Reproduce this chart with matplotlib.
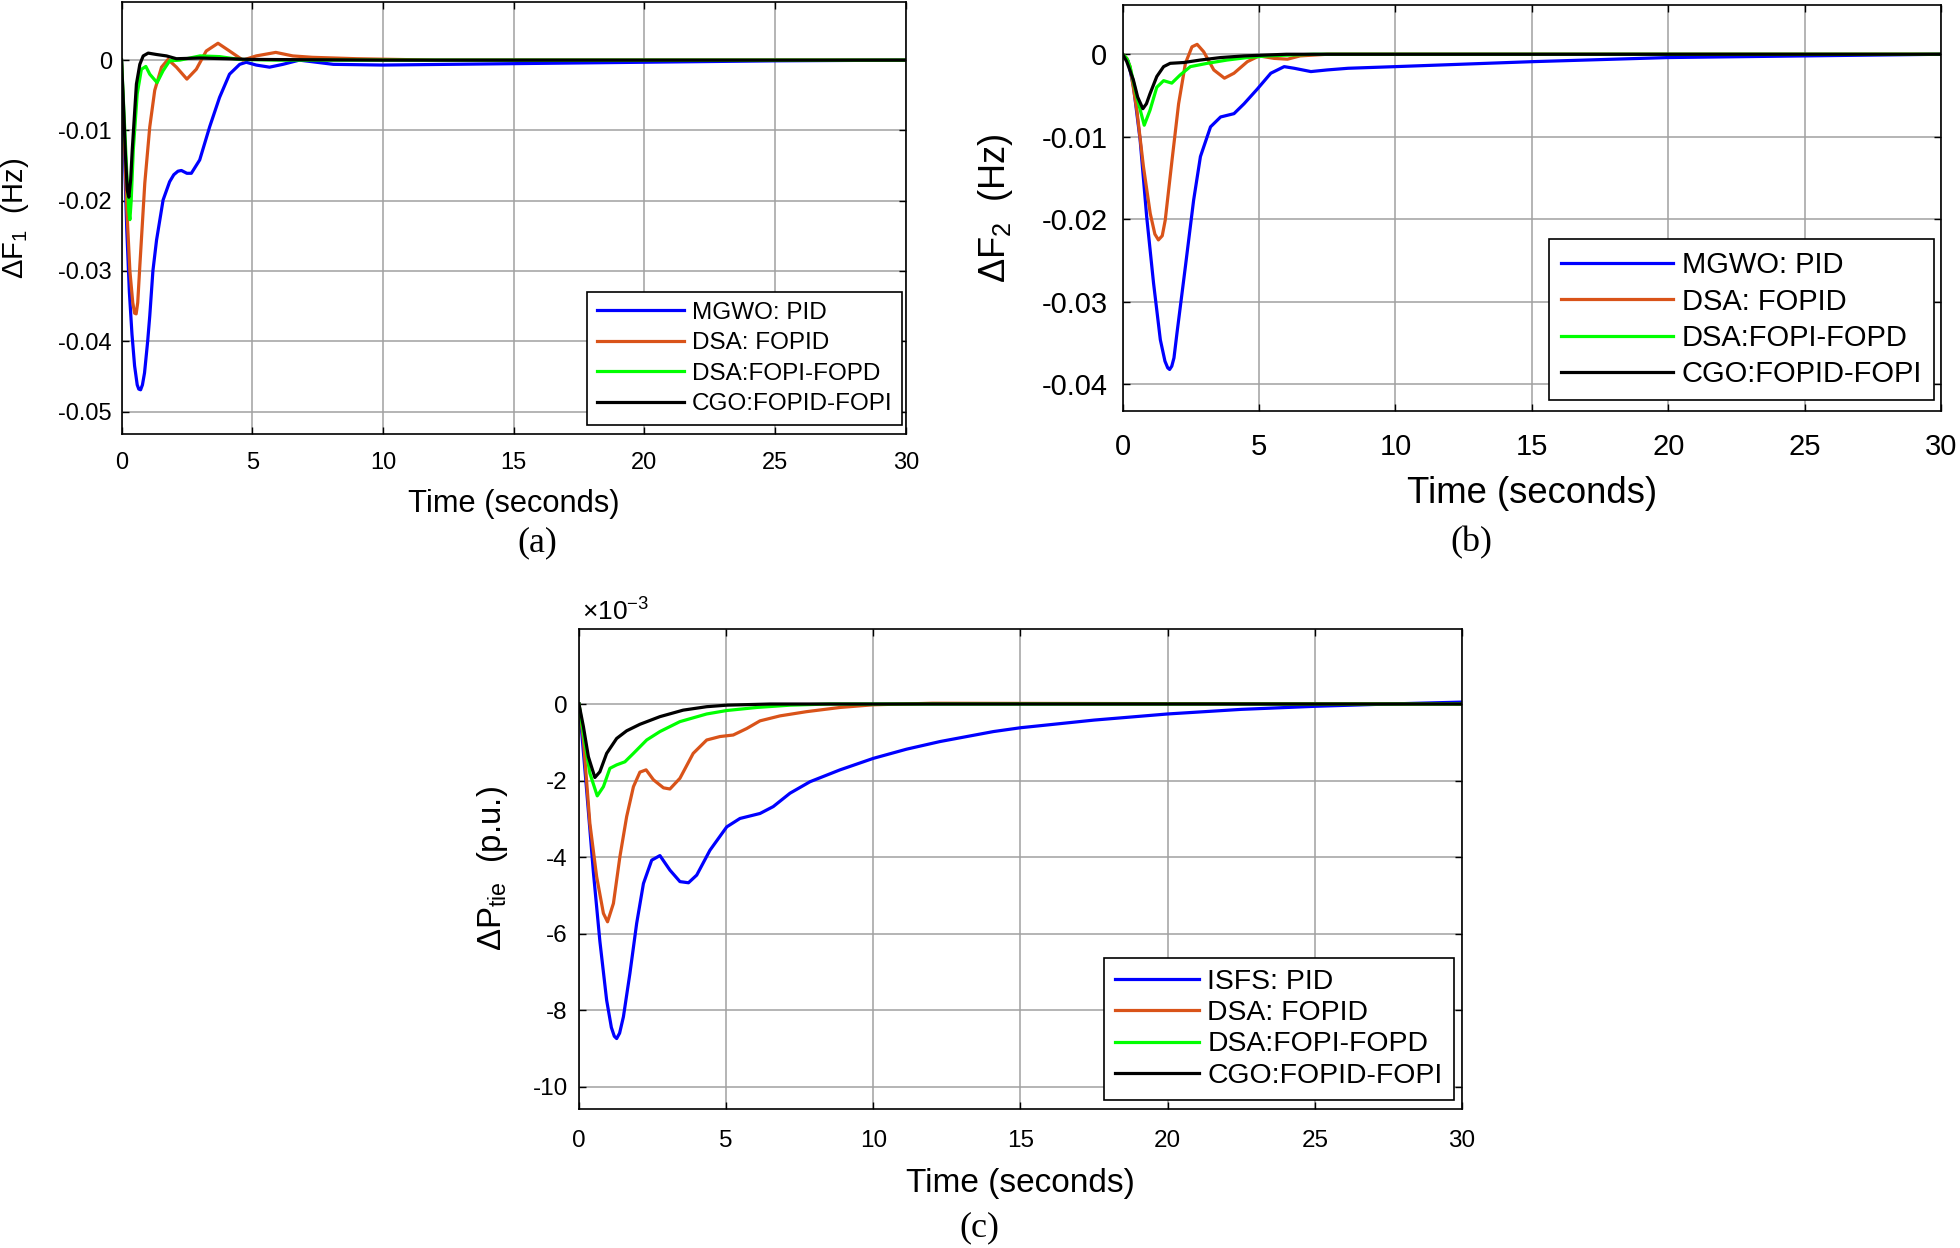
import numpy as np
import matplotlib
matplotlib.use("Agg")
import matplotlib.pyplot as plt

plt.rcParams['font.family'] = ['Liberation Sans', 'DejaVu Sans']
plt.rcParams['axes.unicode_minus'] = False
plt.rcParams['mathtext.fontset'] = 'custom'
plt.rcParams['mathtext.rm'] = 'Liberation Sans'
plt.rcParams['mathtext.it'] = 'Liberation Sans'
plt.rcParams['mathtext.bf'] = 'Liberation Sans:bold'
plt.rcParams['mathtext.default'] = 'regular'

# ---------- colours / labels ----------
c_blue, c_orange, c_green, c_black = '#0000FF', '#D95319', '#00FF00', '#000000'
labels_ab = ['MGWO: PID', 'DSA: FOPID', 'DSA:FOPI-FOPD', 'CGO:FOPID-FOPI']
labels_c = ['ISFS: PID', 'DSA: FOPID', 'DSA:FOPI-FOPD', 'CGO:FOPID-FOPI']

# ---------- (a) delta F1 (Hz) ----------
ta_blue = [0, 0.1, 0.2, 0.3, 0.4, 0.5, 0.6, 0.66, 0.73, 0.8, 0.88, 1.0, 1.08, 1.2, 1.34, 1.59, 1.84, 2.0, 2.16,
           2.29, 2.5, 2.67, 2.99, 3.37, 3.75, 4.13, 4.52, 4.77, 5.15, 5.66, 6.17, 6.8, 8.1, 10, 15, 20, 25, 30]
a_blue = [0, -0.012, -0.024, -0.033, -0.039, -0.0435, -0.0462, -0.0468, -0.0469, -0.0462, -0.0445, -0.040,
          -0.0364, -0.030, -0.0256, -0.0199, -0.0173, -0.0163, -0.0158, -0.0157, -0.0161, -0.0161, -0.0142,
          -0.0095, -0.0053, -0.002, -0.0006, -0.0003, -0.0007, -0.001, -0.0006, 0.0, -0.0006, -0.0007,
          -0.0005, -0.0003, -0.0001, 0.0]
ta_orange = [0, 0.1, 0.2, 0.32, 0.43, 0.5, 0.56, 0.62, 0.7, 0.89, 1.08, 1.27, 1.53, 1.78, 2.1, 2.5, 2.86,
             3.24, 3.69, 4.13, 4.64, 5.15, 5.9, 6.55, 7.3, 9, 12, 30]
a_orange = [0, -0.010, -0.021, -0.030, -0.0345, -0.0360, -0.0361, -0.0345, -0.0293, -0.0175, -0.0095,
            -0.0043, -0.001, 0.0001, -0.001, -0.0027, -0.0013, 0.0013, 0.0024, 0.0013, 0.0, 0.0006, 0.0011,
            0.0006, 0.0004, 0.0002, 0.0, 0.0]
ta_green = [0, 0.1, 0.2, 0.28, 0.32, 0.37, 0.45, 0.6, 0.76, 0.93, 1.08, 1.36, 1.59, 1.84, 2.23, 3.0, 3.75,
            4.5, 6, 30]
a_green = [0, -0.008, -0.016, -0.0215, -0.0227, -0.020, -0.0128, -0.0048, -0.0013, -0.0009, -0.002, -0.0032,
           -0.0015, -0.0001, 0.0, 0.0006, 0.0005, 0.0001, 0.0, 0.0]
ta_black = [0, 0.07, 0.15, 0.22, 0.28, 0.35, 0.41, 0.5, 0.57, 0.7, 0.83, 1.02, 1.34, 1.72, 2.1, 3.0, 5, 10, 30]
a_black = [0, -0.006, -0.0135, -0.0185, -0.0195, -0.017, -0.0128, -0.0075, -0.0034, -0.0006, 0.0006,
           0.001, 0.0008, 0.0006, 0.0002, 0.0003, 0.0001, 0.0, 0.0]

# ---------- (b) delta F2 (Hz) ----------
tb_blue = [0, 0.2, 0.4, 0.64, 0.88, 1.13, 1.38, 1.55, 1.65, 1.72, 1.8, 1.88, 1.99, 2.3, 2.6, 2.85, 3.22, 3.59,
           4.08, 4.45, 4.94, 5.43, 5.92, 6.29, 6.9, 7.5, 8.26, 10, 15, 20, 25, 30]
b_blue = [0, -0.0008, -0.004, -0.0104, -0.0197, -0.0277, -0.0346, -0.0372, -0.0380, -0.0382, -0.0378, -0.0368,
          -0.0338, -0.0257, -0.0177, -0.0124, -0.0088, -0.0076, -0.0072, -0.006, -0.0042, -0.0023, -0.0015,
          -0.0017, -0.0021, -0.0019, -0.0017, -0.0015, -0.0009, -0.0004, -0.0002, 0.0]
tb_orange = [0, 0.15, 0.27, 0.52, 0.76, 1.01, 1.18, 1.31, 1.45, 1.56, 1.81, 2.05, 2.3, 2.54, 2.73, 2.97,
             3.34, 3.73, 4.08, 4.57, 5.0, 5.55, 6.04, 6.5, 7.5, 30]
b_orange = [0, -0.0005, -0.0015, -0.0068, -0.0136, -0.0193, -0.0218, -0.0225, -0.022, -0.0201, -0.0128,
            -0.006, -0.0011, 0.0009, 0.0012, 0.0003, -0.0019, -0.0029, -0.0023, -0.0009, -0.0002, -0.0005,
            -0.0006, -0.0002, 0.0, 0.0]
tb_green = [0, 0.15, 0.27, 0.52, 0.79, 1.0, 1.25, 1.5, 1.8, 2.11, 2.48, 3.1, 3.83, 4.57, 5.3, 7, 30]
b_green = [0, -0.0005, -0.0015, -0.0052, -0.0086, -0.0068, -0.004, -0.0032, -0.0035, -0.0025, -0.0015,
           -0.0011, -0.0007, -0.0004, -0.0002, 0.0, 0.0]
tb_black = [0, 0.15, 0.39, 0.55, 0.74, 0.87, 1.0, 1.25, 1.5, 1.74, 2.24, 2.85, 3.59, 4.45, 6, 30]
b_black = [0, -0.0009, -0.0031, -0.0052, -0.0066, -0.006, -0.0048, -0.0027, -0.0015, -0.0011, -0.001,
           -0.0007, -0.0004, -0.0002, 0.0, 0.0]

# ---------- (c) delta Ptie (p.u., x1e-3) ----------
tc_blue = [0, 0.1, 0.26, 0.49, 0.71, 0.94, 1.1, 1.2, 1.28, 1.38, 1.51, 1.73, 1.96, 2.19, 2.47, 2.75, 3.09, 3.43,
           3.72, 4.0, 4.45, 5.02, 5.47, 6.15, 6.6, 7.17, 7.85, 8.87, 10, 11.13, 12.27, 14.08, 15, 17.5, 20,
           22.5, 25, 27.5, 30]
c_blue_e3 = [0, -0.8, -2.25, -4.4, -6.2, -7.74, -8.45, -8.68, -8.74, -8.6, -8.17, -7.04, -5.73, -4.69, -4.08,
             -3.96, -4.34, -4.64, -4.67, -4.47, -3.82, -3.21, -2.99, -2.86, -2.68, -2.33, -2.03, -1.72, -1.42,
             -1.18, -0.98, -0.72, -0.62, -0.42, -0.26, -0.14, -0.06, 0.0, 0.05]
tc_orange = [0, 0.15, 0.37, 0.6, 0.83, 0.97, 1.17, 1.39, 1.62, 1.85, 2.07, 2.28, 2.53, 2.87, 3.09, 3.43,
             3.88, 4.34, 4.79, 5.24, 5.7, 6.15, 6.83, 7.73, 8.87, 10, 12, 20, 30]
c_orange_e3 = [0, -0.94, -3.12, -4.51, -5.47, -5.69, -5.21, -3.99, -2.94, -2.16, -1.78, -1.72, -1.98,
               -2.19, -2.22, -1.94, -1.29, -0.94, -0.85, -0.81, -0.64, -0.44, -0.31, -0.2, -0.09, -0.02,
               0.02, 0.01, 0.0]
tc_green = [0, 0.15, 0.37, 0.62, 0.83, 1.05, 1.28, 1.56, 1.85, 2.3, 2.75, 3.43, 4.34, 5.02, 6.04, 7.17, 8.5, 30]
c_green_e3 = [0, -0.77, -1.81, -2.4, -2.16, -1.68, -1.59, -1.51, -1.29, -0.94, -0.72, -0.46, -0.26, -0.17,
              -0.09, -0.03, 0.0, 0.0]
tc_black = [0, 0.15, 0.32, 0.54, 0.71, 0.94, 1.28, 1.62, 2.07, 2.75, 3.54, 4.34, 5.02, 6.5, 30]
c_black_e3 = [0, -0.59, -1.38, -1.92, -1.77, -1.29, -0.9, -0.7, -0.53, -0.33, -0.16, -0.07, -0.03, 0.0, 0.0]

x_ticks = [0, 5, 10, 15, 20, 25, 30]
a_yticks = [0, -0.01, -0.02, -0.03, -0.04, -0.05]
b_yticks = [0, -0.01, -0.02, -0.03, -0.04]
c_yticks = [0, -2, -4, -6, -8, -10]


def style_axes(ax, ylim, yticks, ytlabels, fs_tick, xpad, ypad):
    ax.set_xlim(0, 30)
    ax.set_ylim(*ylim)
    ax.set_xticks(x_ticks)
    ax.set_yticks(yticks)
    ax.set_yticklabels(ytlabels)
    ax.grid(True, color='#a0a0a0', linewidth=1.1)
    ax.set_axisbelow(True)
    ax.tick_params(axis='both', direction='in', top=True, right=True, length=5, width=1.0,
                   labelsize=fs_tick)
    ax.tick_params(axis='x', pad=xpad)
    ax.tick_params(axis='y', pad=ypad)
    for s in ax.spines.values():
        s.set_linewidth(1.2)


def add_lines(ax, series, labels, lw=2.3):
    cols = [c_blue, c_orange, c_green, c_black]
    for (t, y), col, lab in zip(series, cols, labels):
        ax.plot(t, y, color=col, lw=lw, label=lab, solid_joinstyle='round')


def add_legend(ax, anchor, fs, hl, ls):
    leg = ax.legend(loc='lower right', bbox_to_anchor=anchor, borderaxespad=0, fontsize=fs,
                    handlelength=hl, labelspacing=ls, handletextpad=0.3, fancybox=False,
                    framealpha=1, edgecolor='black', borderpad=0.4)
    leg.get_frame().set_linewidth(1.2)
    return leg


fig = plt.figure(figsize=(19.6, 12.48), dpi=100)

# ---------- panel (a) ----------
ax1 = fig.add_axes([0.0620, 0.6522, 0.4002, 0.3458])
add_lines(ax1, [(ta_blue, a_blue), (ta_orange, a_orange), (ta_green, a_green), (ta_black, a_black)], labels_ab)
style_axes(ax1, (-0.0532, 0.0082), a_yticks, ['0', '-0.01', '-0.02', '-0.03', '-0.04', '-0.05'], 17, 13, 7)
ax1.set_xlabel('Time (seconds)', fontsize=22.2)
ax1.xaxis.set_label_coords(0.5, -0.127)
ax1.set_ylabel('ΔF$_1$  (Hz)', fontsize=21)
ax1.yaxis.set_label_coords(-0.115, 0.5)
add_legend(ax1, (0.995, 0.021), 17.5, 3.6, 0.35)

# ---------- panel (b) ----------
ax2 = fig.add_axes([0.5728, 0.6709, 0.4175, 0.3253])
add_lines(ax2, [(tb_blue, b_blue), (tb_orange, b_orange), (tb_green, b_green), (tb_black, b_black)], labels_ab)
style_axes(ax2, (-0.0432, 0.006), b_yticks, ['0', '-0.01', '-0.02', '-0.03', '-0.04'], 21, 16, 11)
ax2.set_xlabel('Time (seconds)', fontsize=26.3)
ax2.xaxis.set_label_coords(0.5, -0.16)
ax2.set_ylabel('ΔF$_2$  (Hz)', fontsize=26)
ax2.yaxis.set_label_coords(-0.132, 0.5)
add_legend(ax2, (0.9914, 0.026), 21, 3.85, 0.29)

# ---------- panel (c) ----------
ax3 = fig.add_axes([0.2954, 0.1114, 0.4505, 0.3846])
add_lines(ax3, [(tc_blue, c_blue_e3), (tc_orange, c_orange_e3), (tc_green, c_green_e3), (tc_black, c_black_e3)],
          labels_c)
style_axes(ax3, (-10.58, 1.96), c_yticks, ['0', '-2', '-4', '-6', '-8', '-10'], 17.5, 15, 8)
ax3.set_xlabel('Time (seconds)', fontsize=24)
ax3.xaxis.set_label_coords(0.5, -0.122)
ax3.set_ylabel('ΔP$_{tie}$  (p.u.)', fontsize=23.8)
ax3.yaxis.set_label_coords(-0.078, 0.5)
ax3.text(0.003, 1.008, '×10$^{-3}$', transform=ax3.transAxes, fontsize=19, va='bottom', ha='left')
add_legend(ax3, (0.991, 0.019), 20.4, 2.95, 0.18)

# ---------- panel captions ----------
fig.text(0.274, 0.565, '(a)', fontsize=26, family='Liberation Serif', ha='center', va='center')
fig.text(0.7505, 0.565, '(b)', fontsize=26, family='Liberation Serif', ha='center', va='center')
fig.text(0.4995, 0.0164, '(c)', fontsize=26, family='Liberation Serif', ha='center', va='center')

fig.savefig('out.png', dpi=100)
